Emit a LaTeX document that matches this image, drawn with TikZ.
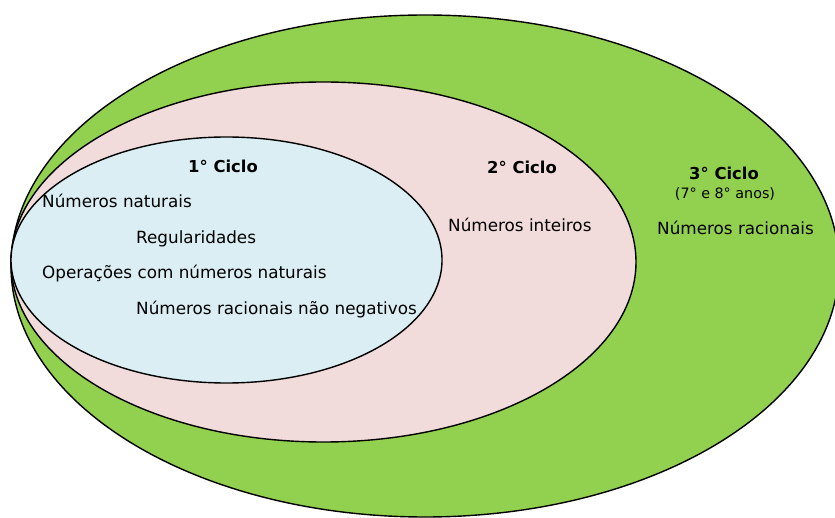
\documentclass[tikz,border=0pt]{standalone}
\usepackage{fontspec}
\setmainfont{DejaVu Sans}
\definecolor{cycthree}{HTML}{92D050}
\definecolor{cyctwo}{HTML}{F2DCDB}
\definecolor{cycone}{HTML}{DBEEF3}
\begin{document}
\begin{tikzpicture}[x=1pt,y=-1pt,
  ring/.style={draw=black,line width=1.4pt},
  lbl/.style={anchor=base west,inner sep=0pt,font=\fontsize{16.8}{20}\selectfont},
  head/.style={anchor=base,inner sep=0pt,font=\bfseries\fontsize{16.4}{20}\selectfont},
  sub/.style={anchor=base,inner sep=0pt,font=\fontsize{14.3}{17}\selectfont}]
\useasboundingbox (0,0) rectangle (835,518);
\filldraw[ring,fill=cycthree] (425,266) ellipse [x radius=414pt, y radius=251pt];
\filldraw[ring,fill=cyctwo] (323.5,262) ellipse [x radius=312.5pt, y radius=180pt];
\filldraw[ring,fill=cycone] (226.5,260) ellipse [x radius=215.5pt, y radius=123pt];
\node[head] (c1) at (223,173) {1° Ciclo};
\node[lbl] (n1) at (42,208) {Números naturais};
\node[lbl] (n2) at (136,244) {Regularidades};
\node[lbl] (n3) at (42,279) {Operações com números naturais};
\node[lbl] (n4) at (136,315) {Números racionais não negativos};
\node[head] (c2) at (522,174) {2° Ciclo};
\node[lbl] (n5) at (448,232) {Números inteiros};
\node[head] (c3) at (724,180) {3° Ciclo};
\node[sub] (a3) at (725,199) {(7° e 8° anos)};
\node[lbl] (n6) at (657,235) {Números racionais};
\end{tikzpicture}
\end{document}
